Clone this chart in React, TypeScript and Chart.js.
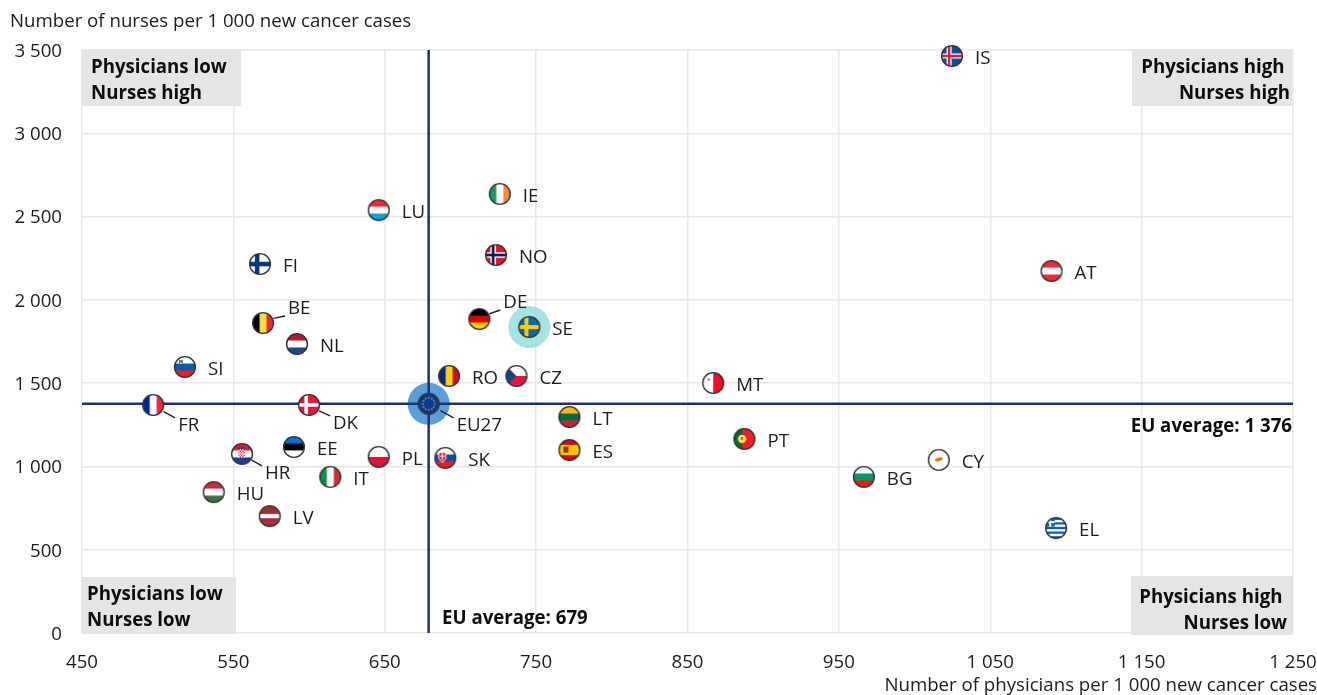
import React, { useEffect, useRef } from "react";
import { Chart, registerables } from "chart.js";

Chart.register(...registerables);

const countries = ["IS","AT","EL","CY","BG","PT","MT","LT","ES","CZ","SE","RO","DE","NO","IE","LU","FI","BE","NL","SI","FR","DK","EU27","EE","HR","PL","SK","IT","HU","LV"];
const physicians = [1024.7,1090.5,1093.5,1016,966.5,887.6,867,772,772,737,745.5,692.5,712.5,723.5,726,646,567.6,569.6,592,518,497,600,679,590,555.7,646,690,614,537,574];
const nurses = [3464,2173,630,1039,937,1165,1501,1297,1099,1543,1837,1543,1885,2269,2636,2539,2215,1861,1735,1597,1369,1369,1376,1117,1075,1057,1051,937,846,702];

const euPhysicians = 679;
const euNurses = 1376;
const highlighted = ["EU27", "SE"];
const xTicksMin = 450;
const xTicksMax = 1250;
const yTicksMax = 3500;

const FONT = '"Open Sans"';
const TEXT = "#1c1c1c";
const NAVY = "#1f3270";
const FS = 18.67;

// Label placement (offset of the text start from the point centre), and leader lines
const defaultOffset: [number, number] = [23, 2.5];
const labelOffset: Record<string, [number, number, boolean]> = {
  FR: [25, 20.5, true], DK: [24, 18.5, true], HR: [23, 19.5, true], EU27: [28, 21.5, true], DE: [24, -16.5, true], BE: [25, -14.5, true],
};

const H = (...c: string[]) => ({ dir: "h", c });
const V = (...c: string[]) => ({ dir: "v", c });

const flagBase: Record<string, { dir: string; c: string[] }> = {
  AT: H("#ed2939", "#fff", "#ed2939"), BG: H("#fff", "#00966e", "#d62612"), LT: H("#fdb913", "#006a44", "#c1272d"),
  ES: H("#c60b1e", "#ffc400", "#ffc400", "#c60b1e"), RO: V("#002b7f", "#fcd116", "#ce1126"), DE: H("#000", "#dd0000", "#ffce00"),
  IE: V("#169b62", "#fff", "#ff883e"), LU: H("#ed2939", "#fff", "#00a1de"), BE: V("#000", "#fae042", "#ed2939"),
  NL: H("#ae1c28", "#fff", "#21468b"), SI: H("#fff", "#005da4", "#ed1c24"), FR: V("#002395", "#fff", "#ed2939"),
  EE: H("#0072ce", "#000", "#fff"), HR: H("#e5172c", "#fff", "#1f3a93"), PL: H("#fff", "#dc143c"), SK: H("#fff", "#0b4ea2", "#ee1c25"),
  IT: V("#009246", "#fff", "#ce2b37"), HU: H("#cd2a3e", "#fff", "#436f4d"), LV: H("#9e3039", "#9e3039", "#fff", "#9e3039", "#9e3039"),
  MT: V("#fff", "#e8112d"), CY: H("#fff"), EU27: H("#063a94"), IS: H("#02529c"), FI: H("#fff"), NO: H("#e8112d"), SE: H("#006aa7"),
  DK: H("#e5173f"), CZ: H("#fff", "#e5173f"), PT: V("#046a38", "#046a38", "#ee1c25", "#ee1c25", "#ee1c25"),
  EL: H("#0d5eaf", "#fff", "#0d5eaf", "#fff", "#0d5eaf", "#fff", "#0d5eaf", "#fff", "#0d5eaf"),
};
const crosses: Record<string, [string, number, string?, number?]> = {
  IS: ["#fff", 5, "#dc1e35", 2.5], FI: ["#003580", 4.5], NO: ["#fff", 5.5, "#00205b", 2.7], SE: ["#fecc00", 4], DK: ["#fff", 3.5],
};

function makeFlag(code: string): HTMLCanvasElement {
  const size = 24, r = 10.4, c = size / 2;
  const cv = document.createElement("canvas");
  cv.width = size; cv.height = size;
  const g = cv.getContext("2d")!;
  g.save();
  g.beginPath(); g.arc(c, c, r, 0, Math.PI * 2); g.clip();
  const base = flagBase[code];
  const n = base.c.length, L = c - r, D = 2 * r;
  base.c.forEach((col, i) => {
    g.fillStyle = col;
    if (base.dir === "h") g.fillRect(L, L + (D * i) / n, D, D / n + 0.5);
    else g.fillRect(L + (D * i) / n, L, D / n + 0.5, D);
  });
  const rect = (col: string, x: number, y: number, w: number, h: number) => { g.fillStyle = col; g.fillRect(L + x, L + y, w, h); };
  const cross = crosses[code];
  if (cross) {
    const cx = 7.5;
    const draw = (col: string, w: number) => { rect(col, cx - w / 2, 0, w, D); rect(col, 0, D / 2 - w / 2, D, w); };
    draw(cross[0], cross[1]);
    if (cross[2]) draw(cross[2], cross[3]!);
  }
  if (code === "CZ") { g.fillStyle = "#11457e"; g.beginPath(); g.moveTo(L, L); g.lineTo(c, c); g.lineTo(L, L + D); g.closePath(); g.fill(); }
  if (code === "EL") { rect("#0d5eaf", 0, 0, 9, 9); rect("#fff", 3.5, 0, 2, 9); rect("#fff", 0, 3.5, 9, 2); }
  if (code === "EU27") {
    g.fillStyle = "#ffcc00";
    for (let i = 0; i < 12; i++) { const a = (i * Math.PI) / 6; g.fillRect(c + 6 * Math.cos(a) - 0.6, c + 6 * Math.sin(a) - 0.6, 1.3, 1.3); }
  }
  if (code === "CY") { g.fillStyle = "#d57800"; g.beginPath(); g.ellipse(c, c - 0.5, 4, 1.7, -0.25, 0, Math.PI * 2); g.fill(); }
  if (code === "MT") { rect("#c8b8b8", 4.5, 5.5, 3, 3); rect("#cc3040", 5.5, 6.5, 1, 1); }
  if (code === "ES") { rect("#7a3b1a", 4.5, 7, 5, 6); rect("#c8182a", 5.5, 8, 3, 3); }
  if (code === "PT") { g.fillStyle = "#ffe000"; g.beginPath(); g.arc(L + 8, c, 4.2, 0, Math.PI * 2); g.fill(); rect("#fff", 6, 7.2, 4, 5.6); rect("#d8132a", 7, 8.2, 2, 3.5); }
  if (code === "SK") { g.fillStyle = "#ee1c25"; g.strokeStyle = "#fff"; g.lineWidth = 1; g.beginPath(); g.moveTo(L + 4, L + 5); g.lineTo(L + 11, L + 5); g.lineTo(L + 11, L + 11); g.lineTo(L + 7.5, L + 15); g.lineTo(L + 4, L + 11); g.closePath(); g.fill(); g.stroke(); rect("#fff", 6.9, 6, 1.3, 6); rect("#fff", 5.5, 8, 4, 1.2); }
  if (code === "SI") { rect("#005da4", 4.5, 3.5, 3.6, 4.5); rect("#ffd700", 5.7, 4, 1.2, 1.2); rect("#fff", 5, 6, 2.6, 1.2); }
  if (code === "HR") {
    for (let i = 0; i < 5; i++) for (let j = 0; j < 6; j++) { rect((i + j) % 2 ? "#fff" : "#d8152b", 6.8 + i * 1.3, 5.6 + j * 1.4, 1.3, 1.4); }
    rect("#1f3a93", 6.5, 3.6, 7, 1.8);
  }
  g.restore();
  g.beginPath(); g.arc(c, c, r, 0, Math.PI * 2);
  g.lineWidth = 1.4; g.strokeStyle = "#333"; g.stroke();
  return cv;
}

const fmt = (v: number) => String(v).replace(/\B(?=(\d{3})+(?!\d))/g, " ");

function boxText(ctx: CanvasRenderingContext2D, lines: string[], xs: number[], ys: number[], align: CanvasTextAlign) {
  ctx.font = `bold ${FS}px ${FONT}`;
  ctx.fillStyle = "#0d0d0d";
  ctx.textAlign = align;
  ctx.textBaseline = "middle";
  lines.forEach((t, i) => ctx.fillText(t, xs[i], ys[i]));
}

const decorPlugin = {
  id: "decor",
  beforeDatasetsDraw(chart: any) {
    const ctx: CanvasRenderingContext2D = chart.ctx;
    ctx.save();
    ctx.fillStyle = "#e5e5e5";
    ctx.fillRect(82, 50, 159, 56);
    ctx.fillRect(1132, 50, 160, 56);
    ctx.fillRect(82, 577, 154, 57);
    ctx.fillRect(1131, 576, 162, 59);
    ctx.restore();
  },
  afterDatasetsDraw(chart: any) {
    const ctx: CanvasRenderingContext2D = chart.ctx;
    const xs = chart.scales.x, ys = chart.scales.y;
    ctx.save();
    boxText(ctx, ["Physicians low", "Nurses high"], [91, 91], [68, 94], "left");
    boxText(ctx, ["Physicians high", "Nurses high"], [1284.5, 1290], [68, 94], "right");
    boxText(ctx, ["Physicians low", "Nurses low"], [87, 87], [595, 621], "left");
    boxText(ctx, ["Physicians high", "Nurses low"], [1282.5, 1287], [598, 624], "right");
    boxText(ctx, ["EU average: 1 376"], [1292], [427], "right");
    boxText(ctx, ["EU average: 679"], [442], [619], "left");

    ctx.font = `${FS}px ${FONT}`;
    ctx.fillStyle = TEXT;
    ctx.textBaseline = "middle";
    ctx.textAlign = "left";
    ctx.fillText("Number of nurses per 1 000 new cancer cases", 10, 21.5);
    ctx.textAlign = "right";
    ctx.fillText("Number of physicians per 1 000 new cancer cases", 1317, 686);
    ctx.textAlign = "left";
    countries.forEach((code, i) => {
      const px = xs.getPixelForValue(physicians[i]);
      const py = ys.getPixelForValue(nurses[i]);
      const o = labelOffset[code];
      const dx = o ? o[0] : defaultOffset[0];
      const dy = o ? o[1] : defaultOffset[1];
      ctx.fillStyle = TEXT;
      ctx.fillText(code, px + dx, py + dy);
      if (o && o[2]) {
        const sy = Math.sign(dy);
        ctx.beginPath();
        ctx.moveTo(px + dx * 0.42, py + sy * Math.abs(dy) * 0.32);
        ctx.lineTo(px + dx - 3, py + dy - sy * 7.5);
        ctx.strokeStyle = "#222";
        ctx.lineWidth = 1.4;
        ctx.stroke();
      }
    });
    ctx.restore();
  },
};

export default function App() {
  const ref = useRef<HTMLCanvasElement>(null);
  useEffect(() => {
    document.body.style.margin = "0";
    const flags = countries.map(makeFlag);
    const points = countries.map((_, i) => ({ x: physicians[i], y: nurses[i] }));
    const halo = (code: string) => { const i = countries.indexOf(code); return [{ x: physicians[i], y: nurses[i] }]; };
    const chart = new Chart(ref.current!, {
      type: "scatter",
      data: {
        datasets: [
          { data: points, pointStyle: flags as any, pointRadius: 12, order: 1, clip: false } as any,
          { type: "line", data: [{ x: xTicksMin, y: euNurses }, { x: xTicksMax, y: euNurses }], borderColor: NAVY, borderWidth: 2.5, pointRadius: 0, order: 2 },
          { type: "line", data: [{ x: euPhysicians, y: 0 }, { x: euPhysicians, y: yTicksMax }], borderColor: NAVY, borderWidth: 2.5, pointRadius: 0, order: 2 },
          { data: halo(highlighted[0]), pointRadius: 21, backgroundColor: "rgba(85,155,215,0.97)", borderWidth: 0, order: 3 },
          { data: halo(highlighted[1]), pointRadius: 21, backgroundColor: "rgba(150,222,222,0.85)", borderWidth: 0, order: 3 },
        ],
      },
      options: {
        responsive: false,
        animation: false,
        layout: { padding: { top: 50, right: 0, left: 0, bottom: 0 } },
        plugins: { legend: { display: false }, tooltip: { enabled: false } },
        scales: {
          x: {
            type: "linear", min: xTicksMin, max: xTicksMax,
            afterFit: (s: any) => { s.height = 62; s.paddingRight = 24; },
            grid: { color: "#e8e8e8", lineWidth: 1.5, drawTicks: false },
            border: { display: false },
            ticks: { stepSize: 100, padding: 18, maxRotation: 0, color: TEXT, font: { family: FONT, size: FS }, callback: (v: any) => fmt(v) },
          },
          y: {
            type: "linear", min: 0, max: yTicksMax,
            afterFit: (s: any) => { s.width = 82; },
            grid: { color: "#e8e8e8", lineWidth: 1.5, drawTicks: false },
            border: { display: false },
            ticks: { stepSize: 500, padding: 20, labelOffset: 1.5, color: TEXT, font: { family: FONT, size: FS }, callback: (v: any) => fmt(v) },
          },
        },
      },
      plugins: [decorPlugin],
    } as any);
    return () => chart.destroy();
  }, []);
  return <canvas ref={ref} width={1317} height={695} style={{ display: "block", width: 1317, height: 695 }} />;
}
